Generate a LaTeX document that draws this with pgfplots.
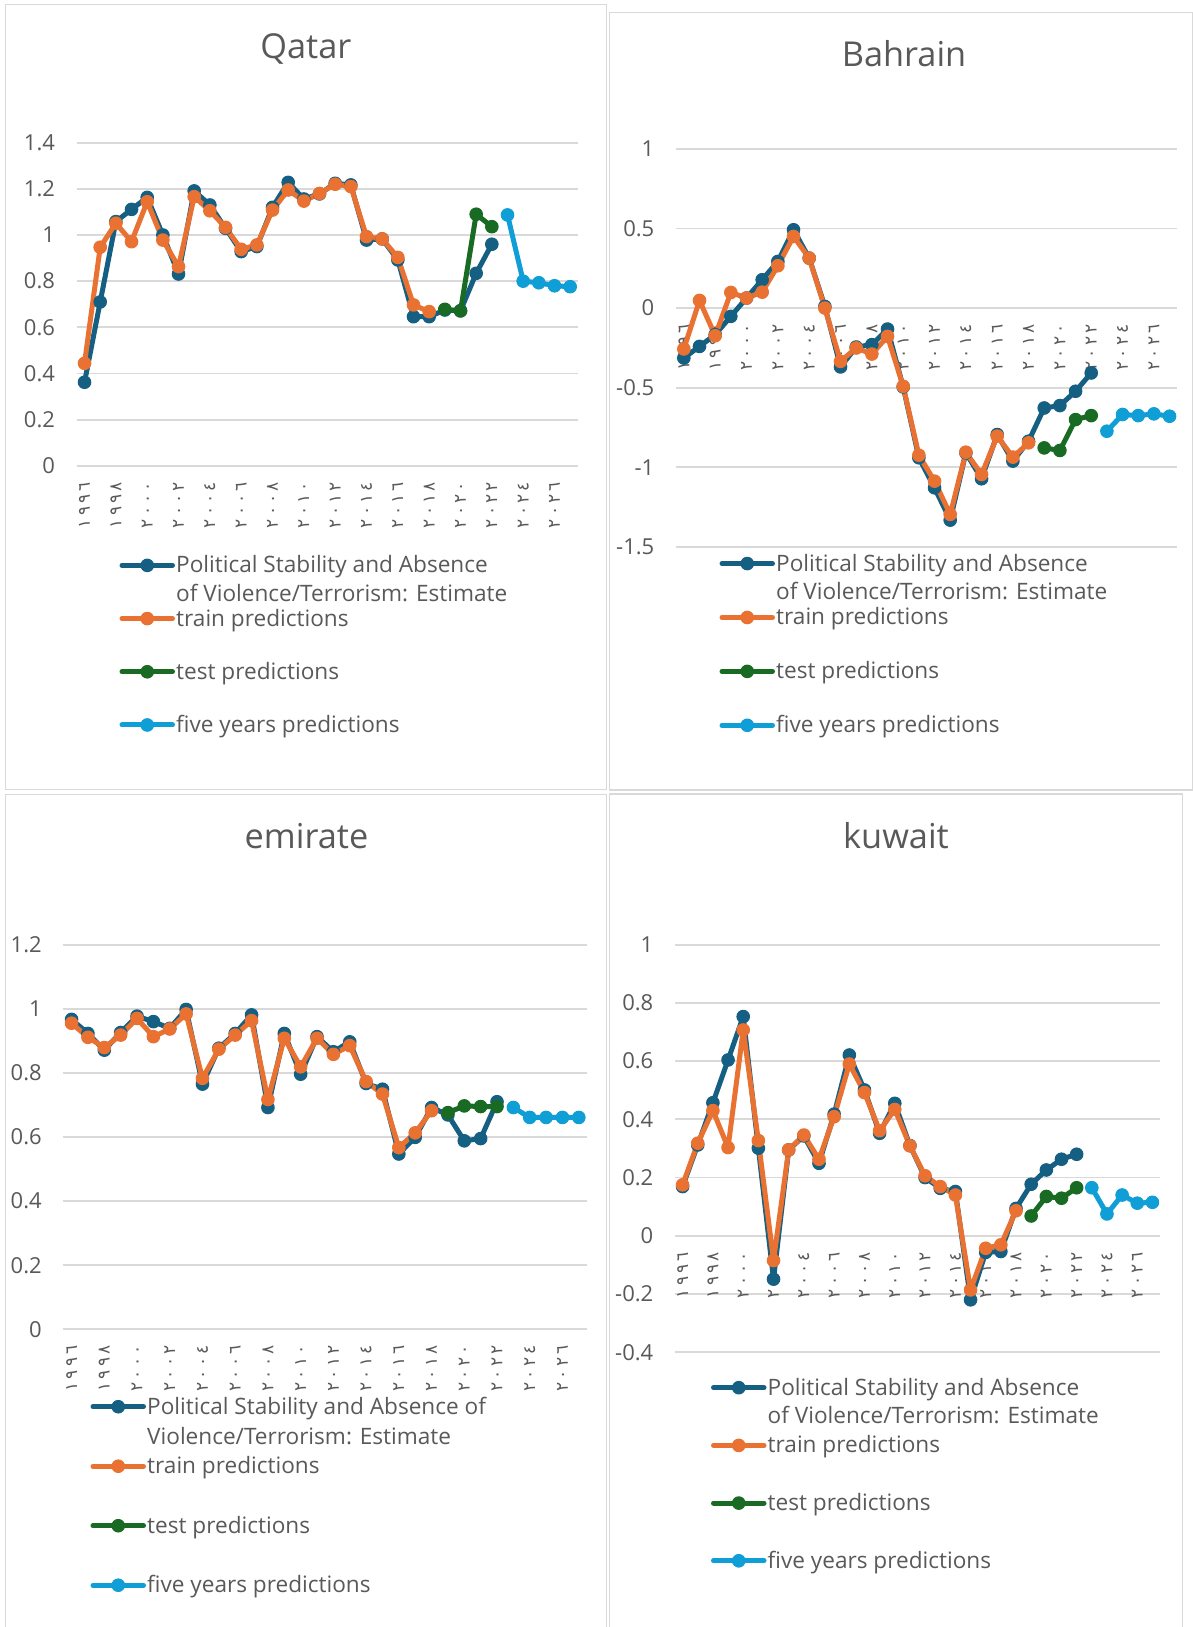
\documentclass[border=0pt]{standalone}
\usepackage{fontspec}
\setmainfont{Open Sans}
\newfontfamily\arabicfont[Script=Arabic]{DejaVu Sans}
\usepackage{pgfplots}
\pgfplotsset{compat=1.18}
\definecolor{cBlue}{HTML}{156082}
\definecolor{cOrange}{HTML}{E97132}
\definecolor{cGreen}{HTML}{196B24}
\definecolor{cLight}{HTML}{0F9ED5}
\definecolor{cGrid}{HTML}{D9D9D9}
\definecolor{cText}{HTML}{595959}
\newcommand\ad[4]{#1\kern3.2pt#2\kern3.2pt#3\kern3.2pt#4}
\pgfplotsset{
  legend image code/.code={\draw[mark repeat=2,mark phase=2,#1] plot coordinates {(0pt,0pt) (25.25pt,0pt) (50.5pt,0pt)};},
  ser/.style={color=#1, line width=5pt, line cap=round, line join=round, mark=*, mark size=6.3pt, mark options={line width=1pt, fill=#1, solid}},
  gcc/.style={
    scale only axis, clip=false,
    axis line style={draw=none}, major tick length=0pt, tick style={draw=none},
    ymajorgrids, grid style={cGrid, line width=1.8pt},
    xmin=-0.5, xmax=31.5, xtick={0,2,...,30},
    xticklabels={\ad ١٩٩٦,\ad ١٩٩٨,\ad ٢٠٠٠,\ad ٢٠٠٢,\ad ٢٠٠٤,\ad ٢٠٠٦,\ad ٢٠٠٨,\ad ٢٠١٠,\ad ٢٠١٢,\ad ٢٠١٤,\ad ٢٠١٦,\ad ٢٠١٨,\ad ٢٠٢٠,\ad ٢٠٢٢,\ad ٢٠٢٤,\ad ٢٠٢٦},
    xticklabel style={font=\arabicfont\fontsize{17}{17}\selectfont, text=cText, inner sep=0pt},
    yticklabel style={font=\fontsize{22}{26}\selectfont, text=cText, inner sep=0pt, anchor=east, xshift=-21.5pt},
    /pgf/number format/assume math mode=true,
    legend cell align=left,
    legend style={draw=none, fill=none, inner sep=0pt, outer sep=0pt, row sep=0pt, column sep=1.2pt, anchor=north west, font=\fontsize{22.6}{28.5}\selectfont, text=cText},
  }
}
\begin{document}
\begin{tikzpicture}
\useasboundingbox (0pt,0pt) rectangle (1193pt,1627pt);
\fill[white] (0pt,0pt) rectangle (1193pt,1627pt);
\draw[cGrid, line width=1.4pt] (5.2pt,837.7pt) rectangle (606.7pt,1622.5pt);
\draw[cGrid, line width=1.4pt] (609.3pt,837pt) rectangle (1192.5pt,1614.3pt);
\draw[cGrid, line width=1.4pt] (5.2pt,-5pt) rectangle (606.7pt,832.7pt);
\draw[cGrid, line width=1.4pt] (609.3pt,-5pt) rectangle (1182.6pt,833pt);

% ---------------- Qatar
\begin{axis}[gcc, at={(76.7pt,1161.2pt)}, anchor=south west, width=501.3pt, height=323.1pt,
  ymin=0, ymax=1.4, ytick={0,0.2,0.4,0.6,0.8,1,1.2,1.4},
  xticklabel style={yshift=-16pt, rotate=90, anchor=east},
  legend style={at={({(119.5-76.7)/501.3},{(1088.2-1161.2)/323.1})}, nodes={inner sep=0pt, outer sep=0pt, text height=34.1pt, text depth=19.1pt}}]
\addplot[ser=cBlue] coordinates {(0,0.362)(1,0.71)(2,1.058)(3,1.111)(4,1.163)(5,1.0)(6,0.831)(7,1.191)(8,1.13)(9,1.029)(10,0.928)(11,0.95)(12,1.12)(13,1.228)(14,1.156)(15,1.178)(16,1.224)(17,1.217)(18,0.978)(19,0.983)(20,0.892)(21,0.646)(22,0.646)(23,0.675)(24,0.672)(25,0.834)(26,0.96)};
\addlegendentry{\parbox[t]{400pt}{Political Stability and Absence\\of Violence/Terrorism: Estimate}}
\addplot[ser=cOrange] coordinates {(0,0.444)(1,0.947)(2,1.051)(3,0.971)(4,1.144)(5,0.978)(6,0.863)(7,1.166)(8,1.105)(9,1.033)(10,0.938)(11,0.957)(12,1.108)(13,1.195)(14,1.147)(15,1.18)(16,1.22)(17,1.21)(18,0.993)(19,0.983)(20,0.903)(21,0.697)(22,0.668)};
\addlegendentry{train predictions}
\addplot[ser=cGreen] coordinates {(23,0.678)(24,0.671)(25,1.09)(26,1.036)};
\addlegendentry{test predictions}
\addplot[ser=cLight] coordinates {(27,1.087)(28,0.80)(29,0.793)(30,0.78)(31,0.776)};
\addlegendentry{five years predictions}
\end{axis}

% ---------------- Bahrain
\begin{axis}[gcc, at={(676pt,1080.3pt)}, anchor=south west, width=501.4pt, height=397.7pt,
  ymin=-1.5, ymax=1, ytick={-1.5,-1,-0.5,0,0.5,1},
  xticklabel style={yshift=222.6pt, rotate=90, anchor=east},
  legend style={at={({(719.5-676)/501.4},{(1090.35-1080.3)/397.7})}, nodes={inner sep=0pt, outer sep=0pt, text height=34.45pt, text depth=19.45pt}}]
\addplot[ser=cBlue] coordinates {(0,-0.314)(1,-0.241)(2,-0.167)(3,-0.052)(4,0.063)(5,0.178)(6,0.293)(7,0.492)(8,0.314)(9,0.01)(10,-0.37)(11,-0.245)(12,-0.23)(13,-0.132)(14,-0.496)(15,-0.941)(16,-1.13)(17,-1.333)(18,-0.91)(19,-1.073)(20,-0.795)(21,-0.962)(22,-0.837)(23,-0.628)(24,-0.613)(25,-0.523)(26,-0.408)};
\addlegendentry{\parbox[t]{400pt}{Political Stability and Absence\\of Violence/Terrorism: Estimate}}
\addplot[ser=cOrange] coordinates {(0,-0.257)(1,0.048)(2,-0.174)(3,0.098)(4,0.063)(5,0.1)(6,0.266)(7,0.45)(8,0.314)(9,0.0)(10,-0.335)(11,-0.251)(12,-0.289)(13,-0.178)(14,-0.492)(15,-0.925)(16,-1.088)(17,-1.297)(18,-0.906)(19,-1.046)(20,-0.805)(21,-0.937)(22,-0.847)};
\addlegendentry{train predictions}
\addplot[ser=cGreen] coordinates {(23,-0.879)(24,-0.895)(25,-0.701)(26,-0.676)};
\addlegendentry{test predictions}
\addplot[ser=cLight] coordinates {(27,-0.774)(28,-0.669)(29,-0.676)(30,-0.665)(31,-0.68)};
\addlegendentry{five years predictions}
\end{axis}

% ---------------- emirate
\begin{axis}[gcc, at={(63.4pt,297.7pt)}, anchor=south west, width=523.6pt, height=384.6pt,
  ymin=0, ymax=1.2, ytick={0,0.2,0.4,0.6,0.8,1,1.2},
  xticklabel style={yshift=-16pt, rotate=90, anchor=east},
  legend style={at={({(90.5-63.4)/523.6},{(250.05-297.7)/384.6})}, nodes={inner sep=0pt, outer sep=0pt, text height=37.25pt, text depth=22.25pt}}]
\addplot[ser=cBlue] coordinates {(0,0.967)(1,0.923)(2,0.871)(3,0.926)(4,0.977)(5,0.96)(6,0.939)(7,0.998)(8,0.765)(9,0.877)(10,0.923)(11,0.981)(12,0.692)(13,0.923)(14,0.796)(15,0.913)(16,0.866)(17,0.897)(18,0.767)(19,0.749)(20,0.547)(21,0.599)(22,0.692)(23,0.669)(24,0.588)(25,0.595)(26,0.71)};
\addlegendentry{\parbox[t]{440pt}{\baselineskip=30.5pt Political Stability and Absence of\\Violence/Terrorism: Estimate}}
\addplot[ser=cOrange] coordinates {(0,0.955)(1,0.911)(2,0.879)(3,0.918)(4,0.97)(5,0.913)(6,0.937)(7,0.984)(8,0.783)(9,0.874)(10,0.918)(11,0.963)(12,0.717)(13,0.908)(14,0.819)(15,0.908)(16,0.858)(17,0.885)(18,0.773)(19,0.734)(20,0.567)(21,0.613)(22,0.682)};
\addlegendentry{train predictions}
\addplot[ser=cGreen] coordinates {(23,0.676)(24,0.697)(25,0.695)(26,0.695)};
\addlegendentry{test predictions}
\addplot[ser=cLight] coordinates {(27,0.692)(28,0.661)(29,0.661)(30,0.661)(31,0.661)};
\addlegendentry{five years predictions}
\end{axis}

% ---------------- kuwait
\begin{axis}[gcc, at={(675pt,274.8pt)}, anchor=south west, width=485pt, height=407.5pt,
  ymin=-0.4, ymax=1, ytick={-0.4,-0.2,0,0.2,0.4,0.6,0.8,1},
  xticklabel style={yshift=100.4pt, rotate=90, anchor=east},
  legend style={at={({(711-675)/485},{(268.15-274.8)/407.5})}, nodes={inner sep=0pt, outer sep=0pt, text height=36.35pt, text depth=21.35pt}}]
\addplot[ser=cBlue] coordinates {(0,0.169)(1,0.312)(2,0.457)(3,0.604)(4,0.753)(5,0.301)(6,-0.149)(7,0.295)(8,0.343)(9,0.249)(10,0.418)(11,0.621)(12,0.501)(13,0.352)(14,0.455)(15,0.31)(16,0.2)(17,0.163)(18,0.152)(19,-0.22)(20,-0.057)(21,-0.054)(22,0.094)(23,0.177)(24,0.226)(25,0.263)(26,0.28)};
\addlegendentry{\parbox[t]{400pt}{Political Stability and Absence\\of Violence/Terrorism: Estimate}}
\addplot[ser=cOrange] coordinates {(0,0.175)(1,0.318)(2,0.43)(3,0.303)(4,0.707)(5,0.327)(6,-0.085)(7,0.295)(8,0.346)(9,0.263)(10,0.409)(11,0.59)(12,0.492)(13,0.361)(14,0.434)(15,0.309)(16,0.206)(17,0.169)(18,0.14)(19,-0.186)(20,-0.043)(21,-0.031)(22,0.086)};
\addlegendentry{train predictions}
\addplot[ser=cGreen] coordinates {(23,0.068)(24,0.135)(25,0.129)(26,0.165)};
\addlegendentry{test predictions}
\addplot[ser=cLight] coordinates {(27,0.165)(28,0.075)(29,0.14)(30,0.112)(31,0.115)};
\addlegendentry{five years predictions}
\end{axis}

\node[anchor=base, font=\fontsize{34.3}{40}\selectfont, text=cText] at (305.9pt,1568.7pt) {Qatar};
\node[anchor=base, font=\fontsize{34.3}{40}\selectfont, text=cText] at (904pt,1560.5pt) {Bahrain};
\node[anchor=base, font=\fontsize{34.3}{40}\selectfont, text=cText] at (306.5pt,778.5pt) {emirate};
\node[anchor=base, font=\fontsize{34.3}{40}\selectfont, text=cText] at (896pt,778.5pt) {kuwait};
\end{tikzpicture}
\end{document}
